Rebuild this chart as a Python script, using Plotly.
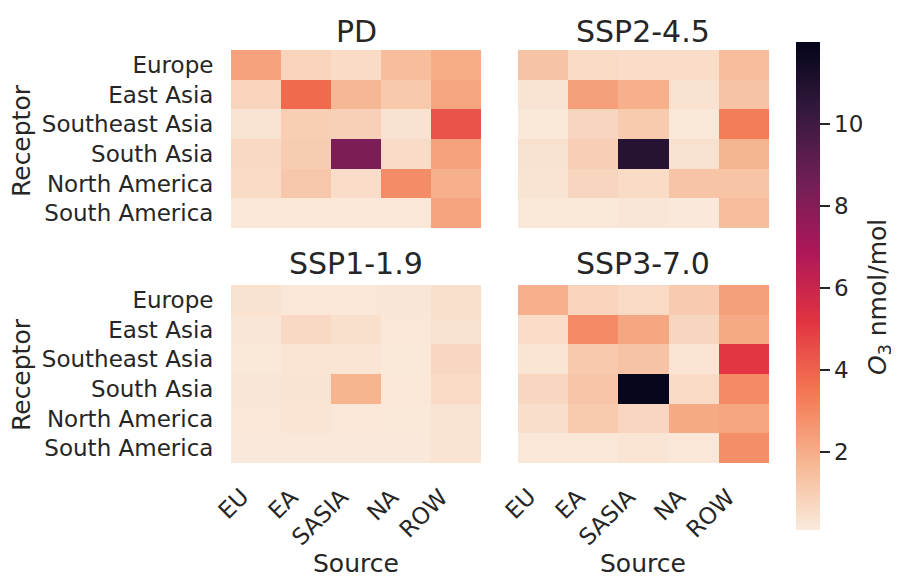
import plotly.graph_objects as go

OFF = 8  # page body margin in the browser
W, H = 899 - OFF, 578 - OFF

sources = ["EU", "EA", "SASIA", "NA", "ROW"]
receptors = ["Europe", "East Asia", "Southeast Asia", "South Asia", "North America", "South America"]

pd_vals = [
    [2.3, 0.8, 0.6, 1.5, 2.0],
    [0.8, 3.8, 1.7, 1.15, 2.2],
    [0.35, 1.0, 0.93, 0.38, 4.4],
    [0.65, 1.05, 8.3, 0.56, 2.3],
    [0.6, 1.2, 0.53, 2.9, 1.9],
    [0.22, 0.22, 0.22, 0.22, 2.25],
]
ssp245_vals = [
    [1.33, 0.62, 0.53, 0.53, 1.48],
    [0.35, 2.34, 1.9, 0.38, 1.33],
    [0.19, 0.78, 1.1, 0.19, 3.3],
    [0.4, 0.96, 10.8, 0.4, 1.76],
    [0.35, 0.78, 0.6, 1.3, 1.3],
    [0.19, 0.19, 0.25, 0.16, 1.48],
]
ssp119_vals = [
    [0.38, 0.22, 0.22, 0.25, 0.44],
    [0.25, 0.65, 0.44, 0.22, 0.4],
    [0.19, 0.31, 0.31, 0.19, 0.75],
    [0.25, 0.35, 1.8, 0.22, 0.62],
    [0.22, 0.31, 0.22, 0.19, 0.35],
    [0.16, 0.16, 0.16, 0.16, 0.35],
]
ssp370_vals = [
    [1.9, 0.8, 0.62, 1.08, 2.34],
    [0.53, 2.94, 2.17, 0.78, 2.1],
    [0.31, 1.15, 1.33, 0.28, 5.1],
    [0.75, 1.24, 11.9, 0.6, 2.94],
    [0.5, 1.1, 0.75, 2.1, 2.2],
    [0.22, 0.22, 0.31, 0.22, 2.85],
]
panel_titles = ["PD", "SSP2-4.5", "SSP1-1.9", "SSP3-7.0"]
cbar_ticks = [2, 4, 6, 8, 10]

rocket_r = [
    [0.0, "#FAEBDD"], [0.143, "#F6B48F"], [0.286, "#F37651"], [0.429, "#E13342"],
    [0.571, "#AD1759"], [0.714, "#701F57"], [0.857, "#35193E"], [1.0, "#03051A"],
]

FONT = "DejaVu Sans"
TXT = "#262626"

def px_x(p):
    return (p - OFF) / W

def px_y(p):
    return 1 - (p - OFF) / H

xl = [px_x(231), px_x(481)]
xr = [px_x(518), px_x(769)]
yt = [px_y(228), px_y(50)]
yb = [px_y(463), px_y(285)]

fig = go.Figure()
panels = [
    (pd_vals, "x", "y", xl, yt, True),
    (ssp245_vals, "x2", "y2", xr, yt, False),
    (ssp119_vals, "x3", "y3", xl, yb, True),
    (ssp370_vals, "x4", "y4", xr, yb, False),
]
for i, (z, xa, ya, xd, yd, showy) in enumerate(panels):
    fig.add_trace(go.Heatmap(z=z, x=sources, y=receptors, coloraxis="coloraxis",
                             xaxis=xa, yaxis=ya))
    sx = "" if i == 0 else str(i + 1)
    fig.layout["xaxis" + sx] = dict(
        domain=xd, anchor=ya, showgrid=False, zeroline=False, showline=False,
        showticklabels=False, range=[-0.5, len(sources) - 0.5],
    )
    fig.layout["yaxis" + sx] = dict(
        domain=yd, anchor=xa, showgrid=False, zeroline=False, showline=False,
        autorange="reversed", showticklabels=showy, ticks="outside" if showy else "",
        ticklen=12, tickcolor="rgba(0,0,0,0)",
        tickfont=dict(size=23, color=TXT, family=FONT),
    )

fig.update_layout(
    width=W, height=H, margin=dict(l=0, r=0, t=0, b=0),
    paper_bgcolor="white", plot_bgcolor="white",
    font=dict(family=FONT, color=TXT),
    coloraxis=dict(
        colorscale=rocket_r, cmin=0.1, cmax=12.0,
        colorbar=dict(
            x=px_x(796), xanchor="left", xpad=0,
            y=px_y(286), yanchor="middle", ypad=0,
            lenmode="pixels", len=488, thicknessmode="pixels", thickness=24,
            outlinewidth=0, tickvals=cbar_ticks, ticks="outside", ticklen=10,
            tickwidth=1.5, tickcolor=TXT,
            tickfont=dict(size=23, color=TXT, family=FONT),
        ),
    ),
)

ann = []
centers_x = [356, 643, 356, 643]
title_y = [31, 31, 263, 263]
for t, cx, cy in zip(panel_titles, centers_x, title_y):
    ann.append(dict(text=t, x=px_x(cx), y=px_y(cy), xref="paper", yref="paper",
                    showarrow=False, xanchor="center", yanchor="middle",
                    font=dict(size=30, color=TXT, family=FONT)))
# rotated x tick labels for the bottom panels (right/top anchored, like ha='right')
for left in [231, 518]:
    cell = 250.0 / len(sources)
    for j, s in enumerate(sources):
        cx = left + cell * (j + 0.5)
        ann.append(dict(text=s, x=px_x(cx), y=px_y(481), xref="paper", yref="paper",
                        showarrow=False, textangle=-45, xanchor="right", yanchor="top",
                        font=dict(size=23, color=TXT, family=FONT)))
for cy in [141, 375]:
    ann.append(dict(text="Receptor", x=px_x(21), y=px_y(cy), xref="paper", yref="paper",
                    showarrow=False, textangle=-90, xanchor="center", yanchor="middle",
                    font=dict(size=25, color=TXT, family=FONT)))
for cx in [356, 643]:
    ann.append(dict(text="Source", x=px_x(cx), y=0, xref="paper", yref="paper",
                    showarrow=False, xanchor="center", yanchor="bottom", yshift=-2,
                    font=dict(size=25, color=TXT, family=FONT)))
ann.append(dict(text="<i>O</i><sub>3</sub> nmol/mol", x=px_x(879), y=px_y(297),
                xref="paper", yref="paper", showarrow=False, textangle=-90,
                xanchor="center", yanchor="middle",
                font=dict(size=25, color=TXT, family=FONT)))
fig.update_layout(annotations=ann)

fig.write_html("out.html")
